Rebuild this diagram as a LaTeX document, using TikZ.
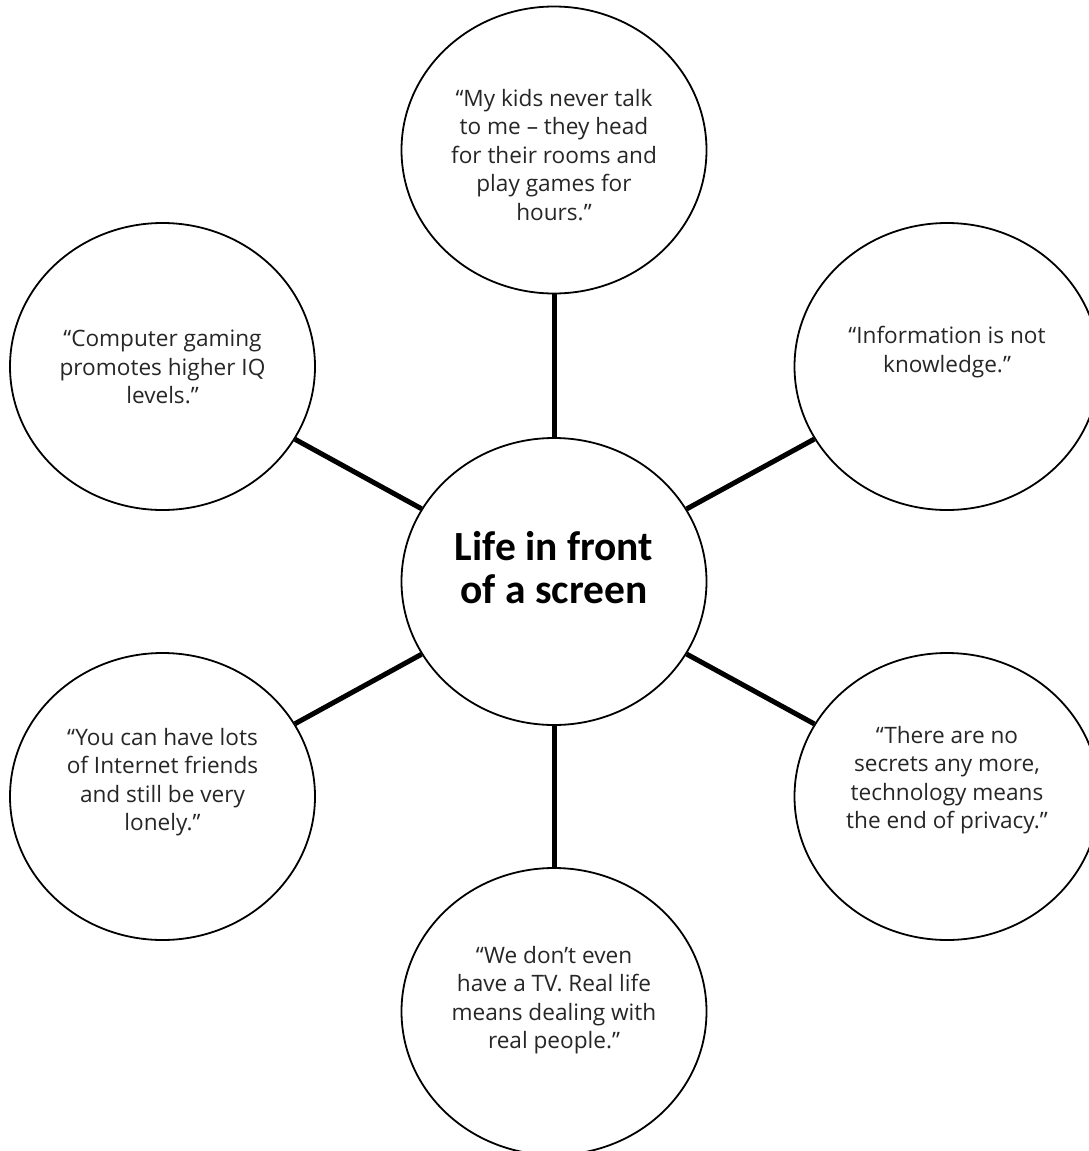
\documentclass[tikz,border=0pt]{standalone}
\usepackage{fontspec}
\setmainfont{Open Sans}
\newfontfamily\titlefont{Carlito}
\usetikzlibrary{shapes.geometric,calc}
\begin{document}
\begin{tikzpicture}[x=1pt,y=-1pt,
  bubble/.style={ellipse,draw=black,line width=1.8pt,minimum width=305pt,minimum height=287pt,inner sep=0pt,fill=white},
  quote/.style={align=center,font=\fontsize{22.6}{28.5}\selectfont,text=black!85,inner sep=0pt},
  title/.style={align=center,font=\titlefont\bfseries\fontsize{41.5}{43}\selectfont,inner sep=0pt},
  link/.style={line width=5pt}]
\useasboundingbox (0,0) rectangle (1089,1151);
\clip (0,0) rectangle (1089,1151);
\node[bubble] (C) at (554,581.5) {};
\node[bubble] (T) at (554,150) {};
\node[bubble] (TL) at (162.5,366.5) {};
\node[bubble] (TR) at (947,366.5) {};
\node[bubble] (BL) at (162.5,796.5) {};
\node[bubble] (BR) at (947,796.5) {};
\node[bubble] (B) at (554,1011.5) {};
\foreach \n in {T,TL,TR,BL,BR,B} \draw[link] (C) -- (\n);
\node[title] (tC) at (554,568) {Life in front\\of a screen};
\node[quote] (tT) at (554,155) {“My kids never talk\\to me – they head\\for their rooms and\\play games for\\hours.”};
\node[quote] (tTL) at (162.5,367) {“Computer gaming\\promotes higher IQ\\levels.”};
\node[quote] (tTR) at (947,352) {“Information is not\\knowledge.”};
\node[quote] (tBL) at (162.5,782) {“You can have lots\\of Internet friends\\and still be very\\lonely.”};
\node[quote] (tBR) at (947,780) {“There are no\\secrets any more,\\technology means\\the end of privacy.”};
\node[quote] (tB) at (554,1000) {“We don’t even\\have a TV. Real life\\means dealing with\\real people.”};
\end{tikzpicture}
\end{document}
